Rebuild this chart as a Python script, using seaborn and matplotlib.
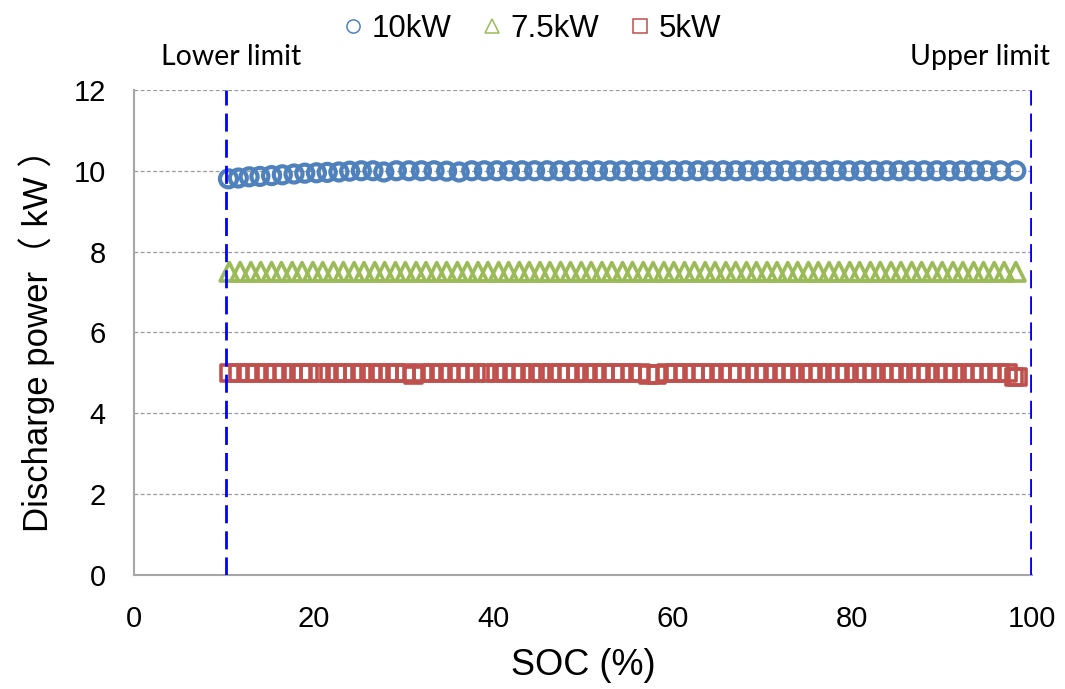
import matplotlib
matplotlib.use('Agg')
import matplotlib.pyplot as plt
import seaborn as sns
from matplotlib.lines import Line2D

# SOC (%) and discharge power (kW)
soc_10 = [10.5, 11.6, 12.8, 14.0, 15.3, 16.5, 17.8, 19.0, 20.3, 21.5,
          22.8, 24.0, 25.3, 26.6, 27.8, 29.2, 30.6, 32.0, 33.4, 34.8,
          36.2, 37.6, 39.0, 40.4, 41.8, 43.2, 44.6, 46.0, 47.4, 48.8,
          50.2, 51.6, 53.0, 54.4, 55.8, 57.2, 58.6, 60.0, 61.4, 62.8,
          64.2, 65.6, 67.0, 68.4, 69.8, 71.2, 72.6, 74.0, 75.4, 76.8,
          78.2, 79.6, 81.0, 82.4, 83.8, 85.2, 86.6, 88.0, 89.4, 90.8,
          92.2, 93.6, 95.0, 96.5, 98.2]
p_10 = [9.80, 9.82, 9.85, 9.86, 9.88, 9.90, 9.92, 9.94, 9.95, 9.96,
        9.97, 9.99, 10.0, 10.0, 9.97, 10.0, 10.0, 10.0, 10.0, 9.99,
        9.97, 10.0, 10.0, 10.0, 10.0, 10.0, 10.0, 10.0, 10.0, 10.0,
        10.0, 10.0, 10.0, 10.0, 10.0, 10.0, 10.0, 10.0, 10.0, 10.0,
        10.0, 10.0, 10.0, 10.0, 10.0, 10.0, 10.0, 10.0, 10.0, 10.0,
        10.0, 10.0, 10.0, 10.0, 10.0, 10.0, 10.0, 10.0, 10.0, 10.0,
        10.0, 10.0, 10.0, 10.0, 10.0]

soc_75 = [10.6, 11.8, 13.0, 14.1, 15.3, 16.4, 17.6, 18.7, 19.9, 21.0,
          22.2, 23.3, 24.5, 25.6, 26.8, 27.9, 29.1, 30.2, 31.4, 32.5,
          33.7, 34.8, 36.0, 37.1, 38.3, 39.4, 40.6, 41.7, 42.9, 44.0,
          45.2, 46.3, 47.5, 48.6, 49.8, 50.9, 52.1, 53.2, 54.4, 55.5,
          56.7, 57.8, 59.0, 60.1, 61.3, 62.4, 63.6, 64.7, 65.9, 67.0,
          68.2, 69.3, 70.5, 71.6, 72.8, 73.9, 75.1, 76.2, 77.4, 78.5,
          79.7, 80.8, 82.0, 83.1, 84.3, 85.4, 86.6, 87.7, 88.9, 90.0,
          91.2, 92.3, 93.5, 94.6, 95.8, 96.9, 98.2]
p_75 = [7.5, 7.5, 7.5, 7.5, 7.5, 7.5, 7.5, 7.5, 7.5, 7.5,
        7.5, 7.5, 7.5, 7.5, 7.5, 7.5, 7.5, 7.5, 7.5, 7.5,
        7.5, 7.5, 7.5, 7.5, 7.5, 7.5, 7.5, 7.5, 7.5, 7.5,
        7.5, 7.5, 7.5, 7.5, 7.5, 7.5, 7.5, 7.5, 7.5, 7.5,
        7.5, 7.5, 7.5, 7.5, 7.5, 7.5, 7.5, 7.5, 7.5, 7.5,
        7.5, 7.5, 7.5, 7.5, 7.5, 7.5, 7.5, 7.5, 7.5, 7.5,
        7.5, 7.5, 7.5, 7.5, 7.5, 7.5, 7.5, 7.5, 7.5, 7.5,
        7.5, 7.5, 7.5, 7.5, 7.5, 7.5, 7.5]

soc_5 = [10.6, 11.6, 12.7, 13.6, 14.7, 15.7, 16.6, 17.7, 18.7, 19.5,
         20.6, 21.7, 22.6, 23.3, 24.4, 25.4, 26.5, 27.5, 28.4, 29.1,
         30.2, 31.1, 32.1, 33.2, 34.2, 35.2, 36.2, 37.1, 38.1, 39.2,
         40.3, 41.3, 42.3, 43.2, 44.3, 45.3, 46.4, 47.4, 48.3, 49.2,
         50.3, 51.3, 52.4, 53.4, 54.3, 55.4, 56.4, 57.3, 58.2, 59.3,
         60.3, 61.3, 62.4, 63.3, 64.3, 65.4, 66.4, 67.3, 68.4, 69.4,
         70.3, 71.4, 72.4, 73.3, 74.4, 75.4, 76.3, 77.4, 78.4, 79.3,
         80.4, 81.4, 82.3, 83.4, 84.4, 85.3, 86.4, 87.4, 88.3, 89.4,
         90.4, 91.3, 92.4, 93.4, 94.3, 95.4, 96.4, 97.3, 98.0, 98.4]
p_5 = [5.0, 5.0, 5.0, 5.0, 5.0, 5.0, 5.0, 5.0, 5.0, 5.0,
       5.0, 5.0, 5.0, 5.0, 5.0, 5.0, 5.0, 5.0, 5.0, 5.0,
       5.0, 4.95, 5.0, 5.0, 5.0, 5.0, 5.0, 5.0, 5.0, 5.0,
       5.0, 5.0, 5.0, 5.0, 5.0, 5.0, 5.0, 5.0, 5.0, 5.0,
       5.0, 5.0, 5.0, 5.0, 5.0, 5.0, 5.0, 4.96, 4.96, 5.0,
       5.0, 5.0, 5.0, 5.0, 5.0, 5.0, 5.0, 5.0, 5.0, 5.0,
       5.0, 5.0, 5.0, 5.0, 5.0, 5.0, 5.0, 5.0, 5.0, 5.0,
       5.0, 5.0, 5.0, 5.0, 5.0, 5.0, 5.0, 5.0, 5.0, 5.0,
       5.0, 5.0, 5.0, 5.0, 5.0, 5.0, 5.0, 5.0, 4.9, 4.9]

lower_limit = 10.2
upper_limit = 99.9
x_ticks = [0, 20, 40, 60, 80, 100]
y_ticks = [0, 2, 4, 6, 8, 10, 12]

sns.set_style('white')
plt.rcParams['font.family'] = ['Liberation Sans', 'Noto Sans CJK SC', 'DejaVu Sans']
plt.rcParams['text.color'] = 'black'
plt.rcParams['axes.labelcolor'] = 'black'

c_10 = '#4F81BD'
c_75 = '#9BBB59'
c_5 = '#C0504D'

fig = plt.figure(figsize=(10.65, 6.89), dpi=100)
ax = fig.add_axes([0.126, 0.1655, 0.843, 0.704])

sns.scatterplot(x=soc_10, y=p_10, marker='o', s=150, facecolors='none',
                edgecolor=c_10, linewidth=3.0, ax=ax, legend=False, zorder=3)
sns.scatterplot(x=soc_75, y=p_75, marker='^', s=175, facecolors='none',
                edgecolor=c_75, linewidth=2.6, ax=ax, legend=False, zorder=3)
sns.scatterplot(x=soc_5, y=p_5, marker='s', s=140, facecolors='none',
                edgecolor=c_5, linewidth=2.6, ax=ax, legend=False, zorder=3)

for xv in [lower_limit, upper_limit]:
    ax.axvline(xv, color='#0000FF', lw=2, dashes=(6.5, 2.9), zorder=4)

ax.text(10.8, 12.82, 'Lower limit', ha='center', va='center', fontsize=20.5,
        family=['Lato', 'DejaVu Sans'], clip_on=False)
ax.text(94.2, 12.82, 'Upper limit', ha='center', va='center', fontsize=20.5,
        family=['Lato', 'DejaVu Sans'], clip_on=False)

ax.set_xlim(0, 100)
ax.set_ylim(0, 12)
ax.set_xticks(x_ticks)
ax.set_yticks(y_ticks)
ax.grid(axis='y', color='#9A9A9A', lw=0.9, dashes=(3, 2))
ax.set_axisbelow(True)
for side in ['top', 'right']:
    ax.spines[side].set_visible(False)
for side in ['left', 'bottom']:
    ax.spines[side].set_color('#A6A6A6')
    ax.spines[side].set_linewidth(1.5)
ax.tick_params(axis='both', direction='out', length=8.5, width=1.3,
               color='#A6A6A6', labelsize=21, pad=12, labelcolor='black')
ax.tick_params(axis='x', pad=13)

ax.set_xlabel('SOC (%)', fontsize=26, labelpad=11)
ax.set_ylabel('Discharge power（ kW ）', fontsize=25, labelpad=13)

handles = [
    Line2D([], [], ls='none', marker='o', ms=9.5, mfc='none', mec=c_10, mew=1.1),
    Line2D([], [], ls='none', marker='^', ms=9.5, mfc='none', mec=c_75, mew=1.1),
    Line2D([], [], ls='none', marker='s', ms=9.5, mfc='none', mec=c_5, mew=1.1),
]
fig.legend(handles, ['10kW', '7.5kW', '5kW'], loc='upper center',
           bbox_to_anchor=(0.497, 1.02), ncol=3, frameon=False, fontsize=22.5,
           handletextpad=0.1, columnspacing=0.8, handlelength=1.0)

fig.savefig('out.png', dpi=100)
